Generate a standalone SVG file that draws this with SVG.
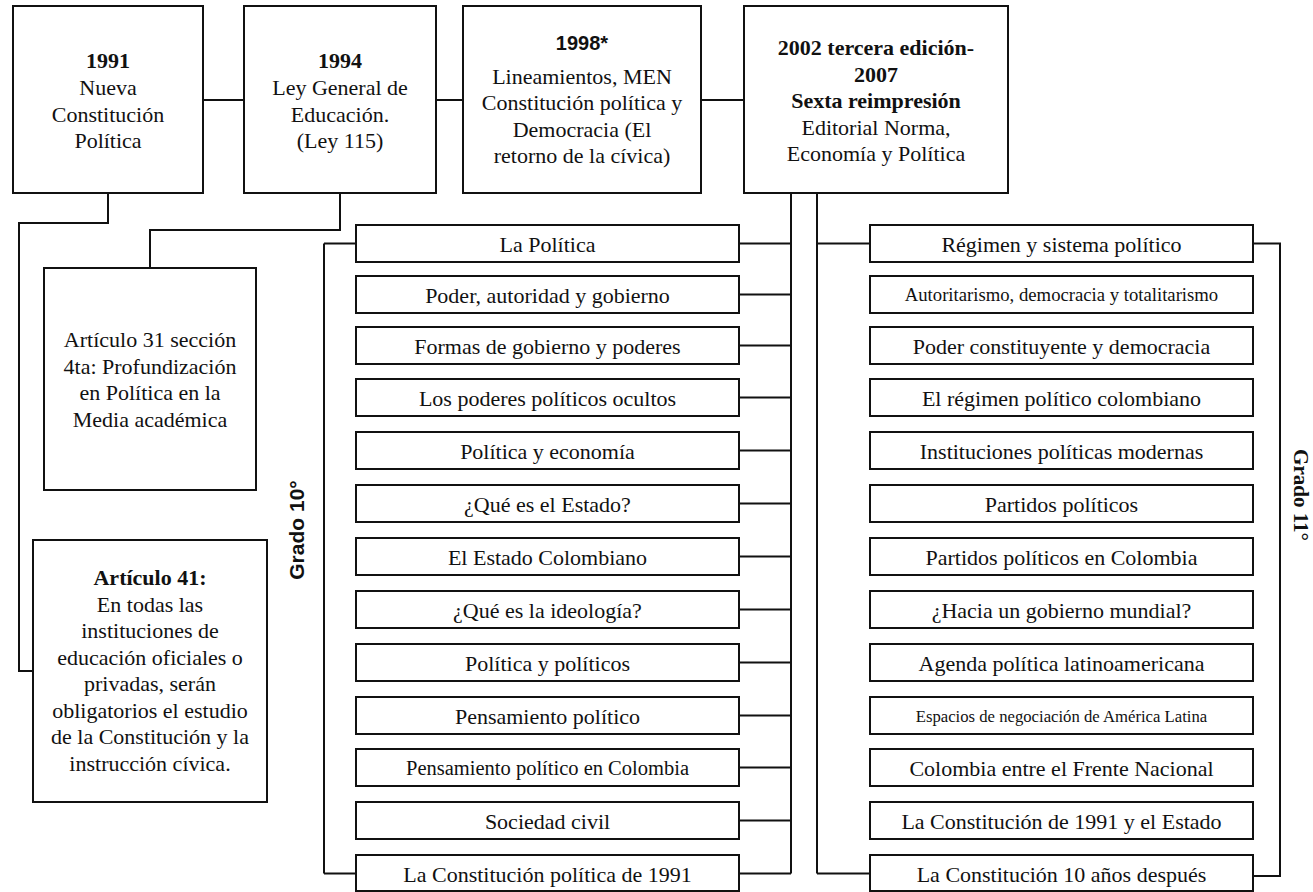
<svg xmlns="http://www.w3.org/2000/svg" width="1313" height="892" viewBox="0 0 1313 892">
<style>
.b{fill:#fff;stroke:#111;stroke-width:2}
.t{font-family:"Liberation Serif","Times New Roman",serif;font-size:22px;fill:#111;text-anchor:middle}
.bd{font-weight:bold}
.s{font-family:"Liberation Sans",Arial,sans-serif;font-weight:bold;fill:#111;text-anchor:middle}
.c{fill:none;stroke:#111;stroke-width:2}
</style>
<rect width="1313" height="892" fill="#fff"/>
<g id="connectors">
<path class="c" d="M203 100H244M436 100H463M701 100H744"/>
<path class="c" d="M108 193V223H19V671H33"/>
<path class="c" d="M340 193V230H150V268"/>
<path class="c" d="M791 193V873.5M817 193V873.5"/>
<path class="c" d="M324 243.5V873.5M324 243.5H356M324 873.5H356"/>
<path class="c" d="M817 243.5H870M817 873.5H870"/>
<path class="c" d="M1253 243.5H1280V876H1253"/>
<path class="c" d="M739 243.5H791M739 294.5H791M739 345.5H791M739 397.5H791M739 450.5H791M739 503.5H791M739 556.5H791M739 609.5H791M739 662.5H791M739 715.5H791M739 767.5H791M739 820.5H791M739 873.5H791"/>
</g>
<g id="n1991"><rect class="b" x="13" y="6" width="190" height="187"/>
<text class="t"><tspan class="bd" x="108" y="68">1991</tspan><tspan x="108" y="95">Nueva</tspan><tspan x="108" y="121.5">Constitución</tspan><tspan x="108" y="148">Política</tspan></text></g>
<g id="n1994"><rect class="b" x="244" y="6" width="192" height="187"/>
<text class="t"><tspan class="bd" x="340" y="68">1994</tspan><tspan x="340" y="95">Ley General de</tspan><tspan x="340" y="121.5">Educación.</tspan><tspan x="340" y="148">(Ley 115)</tspan></text></g>
<g id="n1998"><rect class="b" x="463" y="6" width="238" height="187"/>
<text class="s" x="582" y="50" style="font-size:20px">1998*</text>
<text class="t"><tspan x="582" y="83.5">Lineamientos, MEN</tspan><tspan x="582" y="110">Constitución política y</tspan><tspan x="582" y="136.5">Democracia (El</tspan><tspan x="582" y="163">retorno de la cívica)</tspan></text></g>
<g id="n2002"><rect class="b" x="744" y="6" width="264" height="187"/>
<text class="t"><tspan class="bd" x="876" y="55">2002 tercera edición-</tspan><tspan class="bd" x="876" y="81.5">2007</tspan><tspan class="bd" x="876" y="108">Sexta reimpresión</tspan><tspan x="876" y="134.5">Editorial Norma,</tspan><tspan x="876" y="161">Economía y Política</tspan></text></g>
<g id="art31"><rect class="b" x="44" y="268" width="212" height="222"/>
<text class="t"><tspan x="150" y="347">Artículo 31 sección</tspan><tspan x="150" y="373.5">4ta: Profundización</tspan><tspan x="150" y="400">en Política en la</tspan><tspan x="150" y="426.5">Media académica</tspan></text></g>
<g id="art41"><rect class="b" x="33" y="540" width="234" height="262"/>
<text class="t"><tspan class="bd" x="150" y="585">Artículo 41:</tspan><tspan x="150" y="611.5">En todas las</tspan><tspan x="150" y="638">instituciones de</tspan><tspan x="150" y="664.5">educación oficiales o</tspan><tspan x="150" y="691">privadas, serán</tspan><tspan x="150" y="717.5">obligatorios el estudio</tspan><tspan x="150" y="744">de la Constitución y la</tspan><tspan x="150" y="770.5">instrucción cívica.</tspan></text></g>
<g id="grado10"><text class="s" style="font-size:21px" transform="translate(304 530) rotate(-90)" x="0" y="0">Grado 10°</text></g>
<g id="grado11"><text class="t bd" style="font-size:21px" transform="translate(1294 495) rotate(90)" x="0" y="0">Grado 11°</text></g>
<g id="l1"><rect class="b" x="356" y="225" width="383" height="37"/><text class="t" x="547.5" y="251.5">La Política</text></g>
<g id="l2"><rect class="b" x="356" y="276" width="383" height="37"/><text class="t" x="547.5" y="302.5">Poder, autoridad y gobierno</text></g>
<g id="l3"><rect class="b" x="356" y="327" width="383" height="37"/><text class="t" x="547.5" y="353.5">Formas de gobierno y poderes</text></g>
<g id="l4"><rect class="b" x="356" y="379" width="383" height="37"/><text class="t" x="547.5" y="405.5">Los poderes políticos ocultos</text></g>
<g id="l5"><rect class="b" x="356" y="432" width="383" height="37"/><text class="t" x="547.5" y="458.5">Política y economía</text></g>
<g id="l6"><rect class="b" x="356" y="485" width="383" height="37"/><text class="t" x="547.5" y="511.5">¿Qué es el Estado?</text></g>
<g id="l7"><rect class="b" x="356" y="538" width="383" height="37"/><text class="t" x="547.5" y="564.5">El Estado Colombiano</text></g>
<g id="l8"><rect class="b" x="356" y="591" width="383" height="37"/><text class="t" x="547.5" y="617.5">¿Qué es la ideología?</text></g>
<g id="l9"><rect class="b" x="356" y="644" width="383" height="37"/><text class="t" x="547.5" y="670.5">Política y políticos</text></g>
<g id="l10"><rect class="b" x="356" y="697" width="383" height="37"/><text class="t" x="547.5" y="723.5">Pensamiento político</text></g>
<g id="l11"><rect class="b" x="356" y="749" width="383" height="37"/><text class="t" x="547.5" y="775" style="font-size:20.5px">Pensamiento político en Colombia</text></g>
<g id="l12"><rect class="b" x="356" y="802" width="383" height="37"/><text class="t" x="547.5" y="828.5">Sociedad civil</text></g>
<g id="l13"><rect class="b" x="356" y="855" width="383" height="36"/><text class="t" x="547.5" y="881.5">La Constitución política de 1991</text></g>
<g id="r1"><rect class="b" x="870" y="225" width="383" height="37"/><text class="t" x="1061.5" y="251.5">Régimen y sistema político</text></g>
<g id="r2"><rect class="b" x="870" y="276" width="383" height="37"/><text class="t" x="1061.5" y="301" style="font-size:18.7px">Autoritarismo, democracia y totalitarismo</text></g>
<g id="r3"><rect class="b" x="870" y="327" width="383" height="37"/><text class="t" x="1061.5" y="353.5">Poder constituyente y democracia</text></g>
<g id="r4"><rect class="b" x="870" y="379" width="383" height="37"/><text class="t" x="1061.5" y="405.5">El régimen político colombiano</text></g>
<g id="r5"><rect class="b" x="870" y="432" width="383" height="37"/><text class="t" x="1061.5" y="458.5">Instituciones políticas modernas</text></g>
<g id="r6"><rect class="b" x="870" y="485" width="383" height="37"/><text class="t" x="1061.5" y="511.5">Partidos políticos</text></g>
<g id="r7"><rect class="b" x="870" y="538" width="383" height="37"/><text class="t" x="1061.5" y="564.5">Partidos políticos en Colombia</text></g>
<g id="r8"><rect class="b" x="870" y="591" width="383" height="37"/><text class="t" x="1061.5" y="617.5">¿Hacia un gobierno mundial?</text></g>
<g id="r9"><rect class="b" x="870" y="644" width="383" height="37"/><text class="t" x="1061.5" y="670.5">Agenda política latinoamericana</text></g>
<g id="r10"><rect class="b" x="870" y="697" width="383" height="37"/><text class="t" x="1061.5" y="722" style="font-size:16.7px">Espacios de negociación de América Latina</text></g>
<g id="r11"><rect class="b" x="870" y="749" width="383" height="37"/><text class="t" x="1061.5" y="775.5">Colombia entre el Frente Nacional</text></g>
<g id="r12"><rect class="b" x="870" y="802" width="383" height="37"/><text class="t" x="1061.5" y="828.5">La Constitución de 1991 y el Estado</text></g>
<g id="r13"><rect class="b" x="870" y="855" width="383" height="36"/><text class="t" x="1061.5" y="881.5">La Constitución 10 años después</text></g>
</svg>
